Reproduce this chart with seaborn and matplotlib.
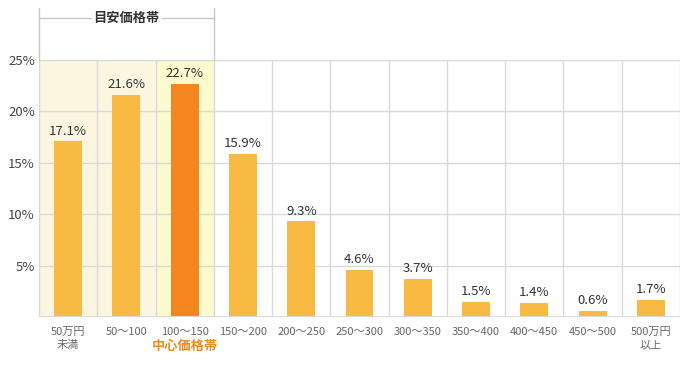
import matplotlib
matplotlib.use("Agg")
import matplotlib.pyplot as plt
import seaborn as sns
import pandas as pd
from matplotlib.transforms import blended_transform_factory

categories = ["50万円\n未満", "50～100", "100～150", "150～200", "200～250", "250～300",
              "300～350", "350～400", "400～450", "450～500", "500万円\n以上"]
values = [17.1, 21.6, 22.7, 15.9, 9.3, 4.6, 3.7, 1.5, 1.4, 0.6, 1.7]
value_labels = ["17.1%", "21.6%", "22.7%", "15.9%", "9.3%", "4.6%", "3.7%", "1.5%", "1.4%", "0.6%", "1.7%"]
y_ticks = [5, 10, 15, 20, 25]
y_tick_labels = ["5%", "10%", "15%", "20%", "25%"]
highlight_index = 2
bracket_title = "目安価格帯"
center_title = "中心価格帯"

sns.set_theme(style="white")
plt.rcParams['font.family'] = ['Noto Sans CJK JP', 'DejaVu Sans']

BAR = "#F8BA43"
HI = "#F5861F"
GRID = "#D9D9D9"

fig = plt.figure(figsize=(6.96, 3.68), dpi=100)
ax = fig.add_axes([39/696, 1-317/368, (680-39)/696, (317-60)/368])

df = pd.DataFrame({"cat": categories, "val": values})
palette = [HI if i == highlight_index else BAR for i in range(len(categories))]
sns.barplot(data=df, x="cat", y="val", hue="cat", palette=palette, legend=False,
            width=0.48, ax=ax, saturation=1, zorder=3, order=categories, hue_order=categories,
            linewidth=0, edgecolor="none")

n = len(categories)
ax.axvspan(-0.5, 1.5, color="#FCF6E1", zorder=0, lw=0)
ax.axvspan(1.5, 2.5, color="#FEFACD", zorder=0, lw=0)

ax.set_xlim(-0.5, n - 0.5)
ax.set_ylim(0, 25)
ax.set_yticks(y_ticks)
ax.set_yticklabels(y_tick_labels, color="#444444", fontsize=9.5)
ax.set_xticks(range(n))
ax.set_xticklabels(categories, color="#666666", fontsize=8, linespacing=1.45)
ax.tick_params(axis="x", length=0, pad=7)
ax.tick_params(axis="y", length=0, pad=3)
ax.set_xlabel("")
ax.set_ylabel("")

# grid
for y in y_ticks:
    ax.axhline(y, color=GRID, lw=1.0, zorder=1)
for k in range(n + 1):
    ax.axvline(k - 0.5, color=GRID, lw=1.0, zorder=1)
for s in ax.spines.values():
    s.set_visible(False)
ax.axhline(0, color=GRID, lw=1.5, zorder=4)

# value labels
for i, (v, lab) in enumerate(zip(values, value_labels)):
    ax.annotate(lab, (i, v), xytext=(0, 2.5), textcoords="offset points",
                ha="center", va="bottom", fontsize=9.5, color="#333333", zorder=5)

# bracket
tr = blended_transform_factory(ax.transData, ax.transAxes)
ytop = (317 - 8) / 257
ybr = (317 - 18) / 257
for xv in (-0.5, 2.5):
    ax.plot([xv, xv], [1.0, ytop], color="#C8C8C8", lw=1.0, transform=tr, clip_on=False)
ax.plot([-0.5, 0.39], [ybr, ybr], color="#C8C8C8", lw=1.0, transform=tr, clip_on=False)
ax.plot([1.61, 2.5], [ybr, ybr], color="#C8C8C8", lw=1.0, transform=tr, clip_on=False)
ax.text(1.0, ybr, bracket_title, transform=tr, ha="center", va="center",
        fontsize=9.5, fontweight="bold", color="#333333")

ax.text(2.0, (317 - 346) / 257, center_title, transform=tr, ha="center", va="center",
        fontsize=9.5, fontweight="bold", color="#F08A1C")

fig.savefig("out.png", dpi=100)
